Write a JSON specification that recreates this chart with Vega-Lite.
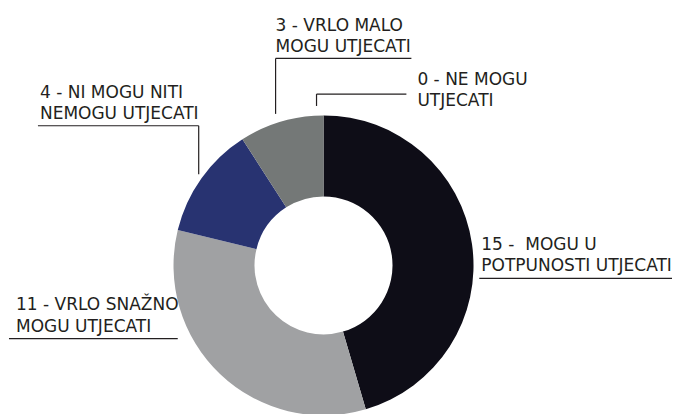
{
  "$schema": "https://vega.github.io/schema/vega-lite/v6.json",
  "width": 673,
  "height": 414,
  "padding": 0,
  "autosize": {"type": "fit", "contains": "padding"},
  "background": "white",
  "config": {"view": {"stroke": null}},
  "datasets": {
    "slices": [
      {"category": "15 - MOGU U POTPUNOSTI UTJECATI", "count": 15, "order": 1},
      {"category": "11 - VRLO SNAŽNO MOGU UTJECATI", "count": 11, "order": 2},
      {"category": "4 - NI MOGU NITI NEMOGU UTJECATI", "count": 4, "order": 3},
      {"category": "3 - VRLO MALO MOGU UTJECATI", "count": 3, "order": 4},
      {"category": "0 - NE MOGU UTJECATI", "count": 0, "order": 5}
    ],
    "labels": [
      {"label": "0 - NE MOGU\nUTJECATI", "lx": 418, "ly": 85.5},
      {"label": "3 - VRLO MALO\nMOGU UTJECATI", "lx": 276, "ly": 31},
      {"label": "4 - NI MOGU NITI\nNEMOGU UTJECATI", "lx": 40, "ly": 98.5},
      {"label": "15 -\u00a0 MOGU U\nPOTPUNOSTI UTJECATI", "lx": 482, "ly": 252},
      {"label": "11 - VRLO SNAŽNO\nMOGU UTJECATI", "lx": 16, "ly": 313.5}
    ],
    "leaders": [
      {"x1": 317, "y1": 107, "x2": 317, "y2": 95},
      {"x1": 317, "y1": 95, "x2": 407, "y2": 95},
      {"x1": 276, "y1": 115, "x2": 276, "y2": 59},
      {"x1": 276, "y1": 59, "x2": 412, "y2": 59},
      {"x1": 199, "y1": 176, "x2": 199, "y2": 127},
      {"x1": 199, "y1": 127, "x2": 38, "y2": 127},
      {"x1": 480, "y1": 281, "x2": 673, "y2": 281},
      {"x1": 9, "y1": 342, "x2": 178, "y2": 342}
    ]
  },
  "layer": [
    {
      "data": {"name": "slices"},
      "mark": {"type": "arc", "outerRadius": 150, "innerRadius": 69},
      "encoding": {
        "theta": {"field": "count", "type": "quantitative", "stack": true},
        "order": {"field": "order", "type": "quantitative"},
        "x": {"datum": 324, "type": "quantitative", "scale": {"domain": [0, 673], "nice": false, "zero": false}, "axis": null},
        "y": {"datum": 268, "type": "quantitative", "scale": {"domain": [0, 414], "nice": false, "zero": false, "reverse": true}, "axis": null},
        "color": {
          "field": "category",
          "type": "nominal",
          "scale": {
            "domain": ["15 - MOGU U POTPUNOSTI UTJECATI", "11 - VRLO SNAŽNO MOGU UTJECATI", "4 - NI MOGU NITI NEMOGU UTJECATI", "3 - VRLO MALO MOGU UTJECATI", "0 - NE MOGU UTJECATI"],
            "range": ["#0e0d17", "#a0a1a3", "#283371", "#747877", "#dddddd"]
          },
          "legend": null
        }
      }
    },
    {
      "data": {"name": "leaders"},
      "mark": {"type": "rule", "color": "#231f20", "strokeWidth": 1.2},
      "encoding": {
        "x": {"field": "x1", "type": "quantitative"},
        "y": {"field": "y1", "type": "quantitative"},
        "x2": {"field": "x2"},
        "y2": {"field": "y2"}
      }
    },
    {
      "data": {"name": "labels"},
      "mark": {"type": "text", "align": "left", "baseline": "alphabetic", "lineBreak": "\n", "lineHeight": 21.5, "fontSize": 17, "font": "DejaVu Sans", "color": "#231f20"},
      "encoding": {
        "x": {"field": "lx", "type": "quantitative"},
        "y": {"field": "ly", "type": "quantitative"},
        "text": {"field": "label"}
      }
    }
  ]
}
